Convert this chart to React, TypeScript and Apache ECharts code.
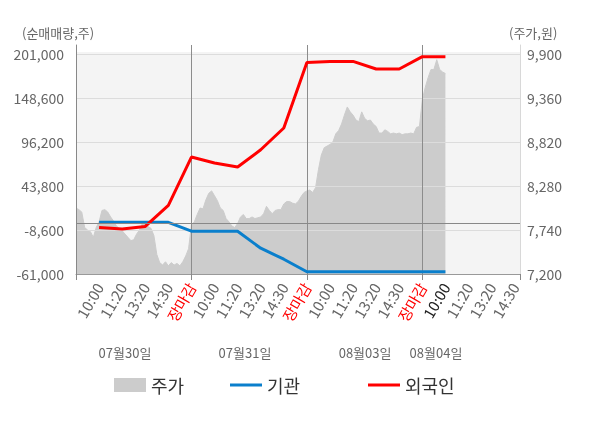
import React, { useEffect, useRef } from 'react';
import * as echarts from 'echarts';

// ---- labels ----
const timeLabels = [
  '10:00', '11:20', '13:20', '14:30', '장마감',
  '10:00', '11:20', '13:20', '14:30', '장마감',
  '10:00', '11:20', '13:20', '14:30', '장마감',
  '10:00', '11:20', '13:20', '14:30',
];
const dayLabels = ['07월30일', '07월31일', '08월03일', '08월04일'];
const dayLabelSlots = [2.12, 7.32, 12.52, 15.59];
const netTicks = [-61000, -8600, 43800, 96200, 148600, 201000];
const priceTicks = [7200, 7740, 8280, 8820, 9360, 9900];
const netAxisName = '(순매매량,주)';
const priceAxisName = '(주가,원)';

// ---- price (주가, 원), samples per day ----
const priceDay1 = [
  8010, 7990, 7960, 7770, 7740, 7720, 7650, 7770, 7840, 7980,
  7990, 7960, 7900, 7850, 7790, 7760, 7730, 7690, 7650, 7610,
  7620, 7690, 7740, 7820, 7830, 7780, 7760, 7670, 7440, 7340,
  7310, 7350, 7300, 7340, 7310, 7330, 7300, 7350, 7420, 7510,
];
const priceDay2 = [
  7800, 7840, 7930, 8010, 8000, 8110, 8190, 8220, 8160, 8100,
  8010, 7980, 7880, 7840, 7790, 7770, 7820, 7900, 7930, 7880,
  7880, 7900, 7880, 7890, 7900, 7940, 8030, 7980, 7940, 7980,
  7990, 7990, 8060, 8090, 8090, 8070, 8060, 8090, 8150, 8200,
];
const priceDay3 = [
  8220, 8230, 8200, 8260, 8480, 8660, 8750, 8770, 8790, 8820,
  8920, 8960, 9040, 9150, 9250, 9190, 9150, 9090, 9070, 9190,
  9110, 9080, 9090, 9040, 9010, 8930, 8930, 8970, 8950, 8920,
  8930, 8920, 8930, 8910, 8920, 8920, 8930, 8920, 9000, 9010,
];
const priceDay4 = [9340, 9490, 9610, 9710, 9710, 9830, 9710, 9680, 9660];

// ---- cumulative net buying (주), one value per time label ----
const lineSlots = [1, 2, 3, 4, 5, 6, 7, 8, 9, 10, 11, 12, 13, 14, 15, 16];
const instNet = [
  600, 600, 600, 600, -10000, -10000, -10000, -30300,
  -43400, -58300, -58300, -58300, -58300, -58300, -58300, -58300,
];
const foreignNet = [
  -5500, -7400, -4300, 20700, 78300, 71200, 66400, 87000,
  112900, 191000, 192200, 192200, 183100, 183100, 197800, 197800,
];

const FONT = "'Noto Sans CJK KR', 'Noto Sans', sans-serif";
const X_MAX = 19.23;
const SAMPLE_STEP = 0.125;
const SLOTS_PER_DAY = 5;
const GRID_LEFT = 76;
const GRID_WIDTH = 444;
const GRID_TOP = 52;
const GRID_BOTTOM = 274;
const VALUE_TOP = 54;
const LINE_TOP = 45;

export default function App() {
  const ref = useRef<HTMLDivElement>(null);

  useEffect(() => {
    document.body.style.margin = '0';
    const chart = echarts.init(ref.current!, null, { renderer: 'svg' });

    const netBase = netTicks[0];
    const netStep = netTicks[1] - netTicks[0];
    const netSpan = netTicks[netTicks.length - 1] - netBase;
    const priceBase = priceTicks[0];
    const priceStep = priceTicks[1] - priceTicks[0];
    const priceSpan = priceTicks[priceTicks.length - 1] - priceBase;
    const stretch = (GRID_BOTTOM - GRID_TOP) / (GRID_BOTTOM - VALUE_TOP);

    const priceData: number[][] = [];
    [priceDay1, priceDay2, priceDay3, priceDay4].forEach((day, d) => {
      day.forEach((p, i) => {
        priceData.push([d * SLOTS_PER_DAY + i * SAMPLE_STEP, p - priceBase]);
      });
    });
    const instData = lineSlots.map((s, i) => [s, instNet[i] - netBase]);
    const foreignData = lineSlots.map((s, i) => [s, foreignNet[i] - netBase]);

    const labelCustom = timeLabels.map((_, i) => i + 1);
    const nearestIdx = (arr: number[], v: number) => {
      let best = 0;
      arr.forEach((a, i) => {
        if (Math.abs(a - v) < Math.abs(arr[best] - v)) best = i;
      });
      return best;
    };

    const legendCommon = {
      top: 376,
      padding: 0,
      icon: 'rect',
      itemWidth: 32,
      selectedMode: false,
      textStyle: { fontSize: 18, color: '#333', fontFamily: FONT },
    };
    const nameStyle = { fontSize: 13, fontWeight: 'normal', color: '#666', fontFamily: FONT };

    const option: any = {
      animation: false,
      textStyle: { fontFamily: FONT },
      title: [
        { text: netAxisName, left: 22, top: 26, padding: 0, textStyle: nameStyle },
        { text: priceAxisName, left: 509, top: 26, padding: 0, textStyle: nameStyle },
      ],
      grid: [
        {
          left: GRID_LEFT, width: GRID_WIDTH, top: GRID_TOP,
          height: GRID_BOTTOM - GRID_TOP,
          show: true, backgroundColor: '#f4f4f4', borderWidth: 0,
        },
        {
          left: GRID_LEFT, width: GRID_WIDTH, top: LINE_TOP,
          height: GRID_BOTTOM - LINE_TOP,
          show: false,
        },
      ],
      legend: [
        { ...legendCommon, left: 114, itemHeight: 14, data: ['주가'] },
        { ...legendCommon, left: 230, itemHeight: 3, data: ['기관'] },
        { ...legendCommon, left: 368, itemHeight: 3, data: ['외국인'] },
      ],
      xAxis: [
        {
          type: 'value', gridIndex: 0, position: 'bottom', min: 0, max: X_MAX, z: 1.5,
          axisLine: { show: true, lineStyle: { color: '#999', width: 1 } },
          axisTick: { show: false },
          splitLine: { show: false },
          axisLabel: {
            customValues: labelCustom,
            rotate: 60,
            margin: 10,
            fontSize: 15,
            fontFamily: FONT,
            formatter: (v: number) => timeLabels[Math.round(v) - 1] ?? '',
            color: (v: any) => {
              const i = Math.round(Number(v)) - 1;
              if (timeLabels[i] === '장마감') return '#ff0000';
              if (i === 15) return '#222';
              return '#666';
            },
          },
        },
        {
          type: 'value', gridIndex: 1, position: 'bottom', min: 0, max: X_MAX,
          interval: SLOTS_PER_DAY, z: 1.5,
          axisLine: { show: false },
          axisTick: { show: true, length: 6, lineStyle: { color: '#888' } },
          axisLabel: { show: false },
          splitLine: {
            show: true, showMinLine: false, showMaxLine: false,
            lineStyle: { color: '#8c8c8c', width: 1 },
          },
        },
        {
          type: 'value', gridIndex: 0, position: 'bottom', min: 0, max: X_MAX,
          axisLine: { show: false },
          axisTick: { show: false },
          splitLine: { show: false },
          axisLabel: {
            customValues: dayLabelSlots,
            margin: 72,
            fontSize: 13,
            color: '#666',
            fontFamily: FONT,
            formatter: (v: number) => dayLabels[nearestIdx(dayLabelSlots, v)],
          },
        },
      ],
      yAxis: [
        {
          type: 'value', gridIndex: 0, position: 'left', z: 1.5,
          min: 0, max: netSpan * stretch, interval: netStep,
          axisLine: { show: false },
          axisTick: { show: false },
          axisLabel: {
            margin: 12, fontSize: 14, color: '#666', fontFamily: FONT,
            formatter: (v: number) => (v > netSpan + 1 ? '' : (v + netBase).toLocaleString('en-US')),
          },
          splitLine: {
            show: true, showMinLine: false, showMaxLine: false,
            lineStyle: { color: '#dcdcdc', width: 1 },
          },
        },
        {
          type: 'value', gridIndex: 0, position: 'right', z: 1.5,
          min: 0, max: priceSpan * stretch, interval: priceStep,
          axisLine: { show: false },
          axisTick: { show: false },
          axisLabel: {
            margin: 7, fontSize: 14, color: '#666', fontFamily: FONT,
            formatter: (v: number) => (v > priceSpan + 0.1 ? '' : (v + priceBase).toLocaleString('en-US')),
          },
          splitLine: { show: false },
        },
        {
          type: 'value', gridIndex: 1, position: 'left', min: 0, max: 1, z: 1.5,
          axisLine: { show: true, lineStyle: { color: '#888', width: 1 } },
          axisTick: { show: false }, axisLabel: { show: false }, splitLine: { show: false },
        },
        {
          type: 'value', gridIndex: 1, position: 'right', min: 0, max: 1, z: 1.5,
          axisLine: { show: true, lineStyle: { color: '#d8d8d8', width: 1 } },
          axisTick: { show: false }, axisLabel: { show: false }, splitLine: { show: false },
        },
      ],
      series: [
        {
          name: '주가', type: 'line', xAxisIndex: 0, yAxisIndex: 1, z: 1,
          color: '#cccccc',
          data: priceData,
          symbol: 'none', showSymbol: false,
          lineStyle: { width: 1, color: '#cccccc' },
          areaStyle: { color: '#cccccc', opacity: 1 },
        },
        {
          name: 'zero', type: 'line', xAxisIndex: 0, yAxisIndex: 0, z: 1.6,
          data: [],
          markLine: {
            silent: true, symbol: 'none', animation: false,
            label: { show: false },
            lineStyle: { color: '#888', width: 1, type: 'solid' },
            data: [{ yAxis: 0 - netBase }],
          },
        },
        {
          name: '기관', type: 'line', xAxisIndex: 0, yAxisIndex: 0, z: 2,
          color: '#0a7fcc',
          data: instData,
          symbol: 'none', showSymbol: false,
          lineStyle: { width: 3, color: '#0a7fcc' },
        },
        {
          name: '외국인', type: 'line', xAxisIndex: 0, yAxisIndex: 0, z: 2,
          color: '#ff0000',
          data: foreignData,
          symbol: 'none', showSymbol: false,
          lineStyle: { width: 3, color: '#ff0000' },
        },
      ],
    };

    chart.setOption(option);
    return () => chart.dispose();
  }, []);

  return (
    <div
      ref={ref}
      style={{ position: 'fixed', left: 0, top: 0, width: 600, height: 428 }}
    />
  );
}
